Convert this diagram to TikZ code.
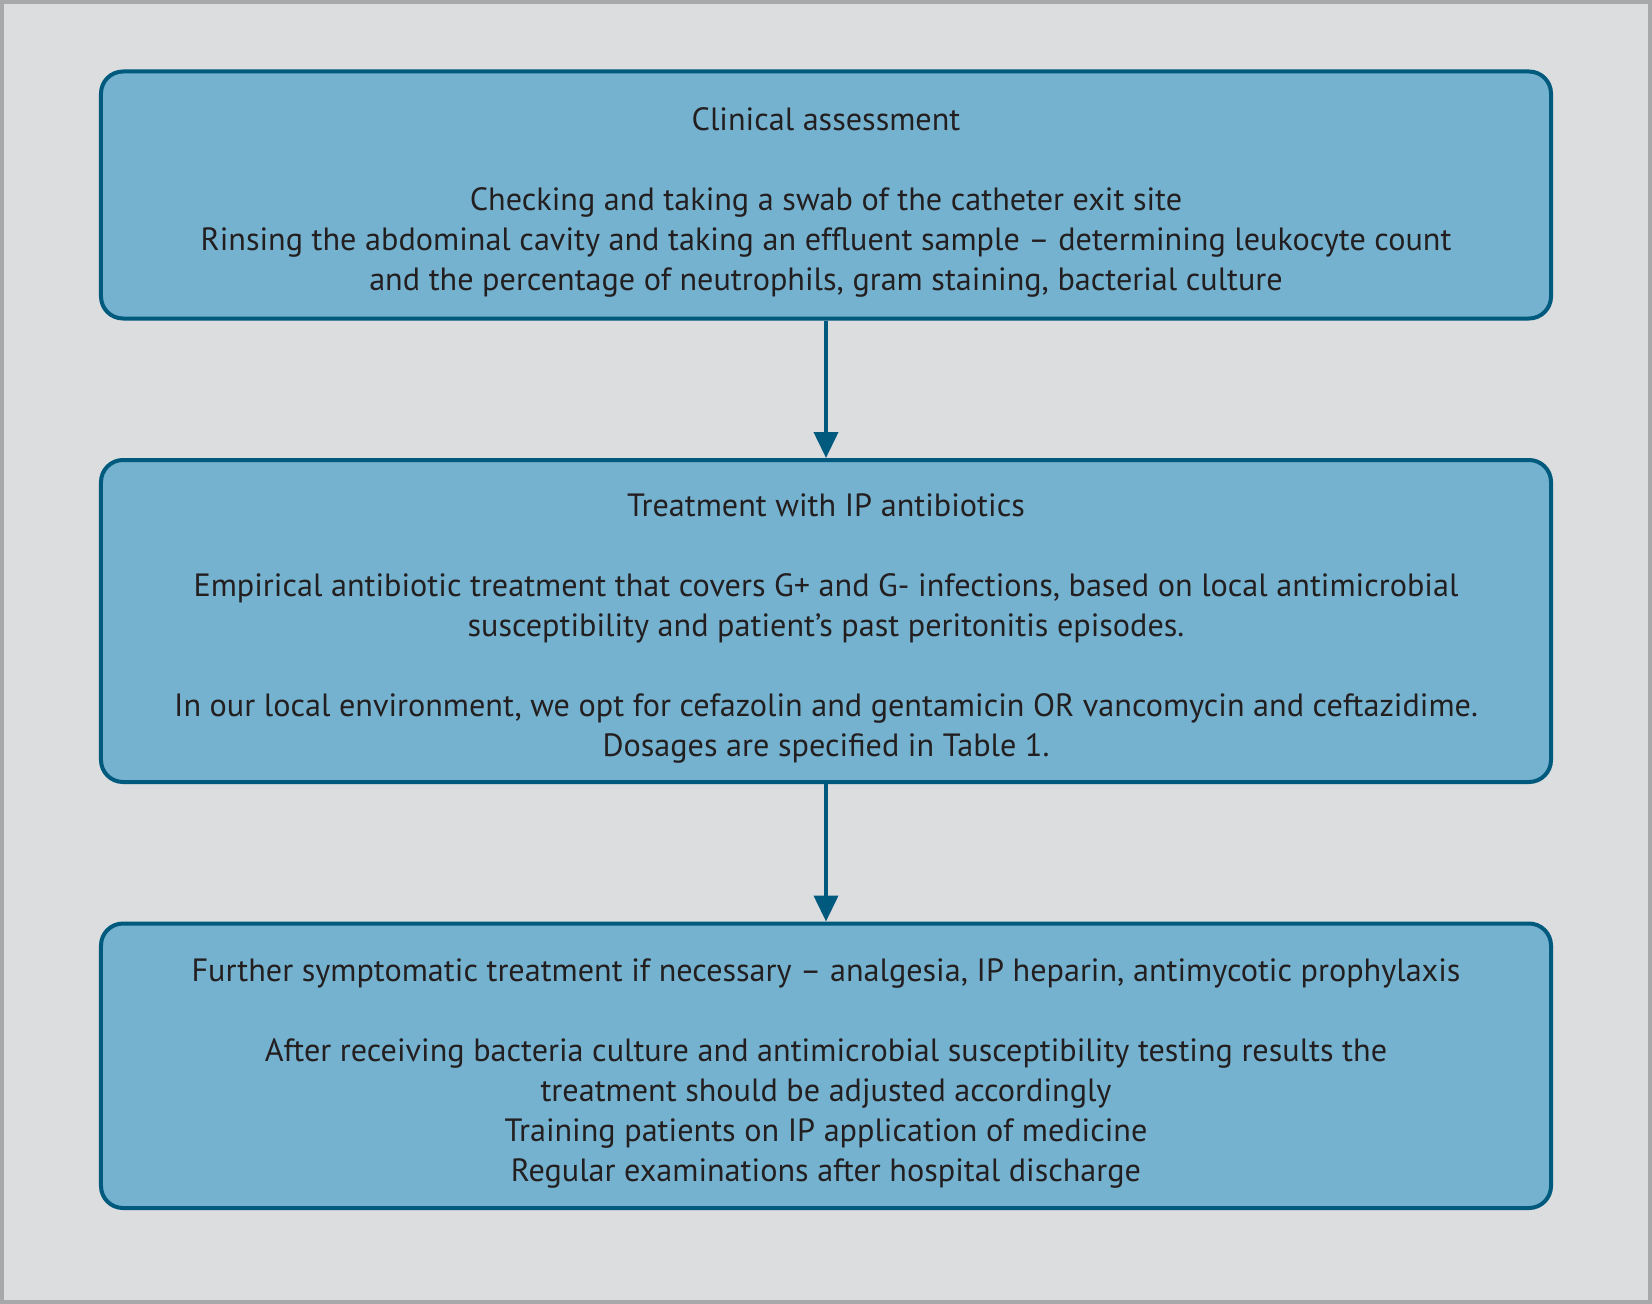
\documentclass[tikz,border=0pt]{standalone}
\usepackage{fontspec}
\setmainfont{PT Sans}
\usetikzlibrary{positioning, arrows.meta}
\definecolor{boxfill}{HTML}{75B2CF}
\definecolor{boxline}{HTML}{005A7E}
\definecolor{pagebg}{HTML}{DCDDDF}
\definecolor{pageframe}{HTML}{A7A8AA}
\definecolor{textgray}{HTML}{231F20}
\newcommand{\leadstrut}{\rule{0pt}{38bp}}
\tikzset{>={Triangle[width=24bp,length=26bp]}}
\tikzset{
  font={\fontsize{32.2bp}{40bp}\selectfont}}
\tikzset{
  stage/.style={draw=boxline, fill=boxfill, line width=4bp, rounded corners=22bp,
    minimum width=1450bp, align=center, text=textgray},
  link/.style={->, draw=boxline, line width=4bp}}

\begin{document}
\begin{tikzpicture}[x=1bp, y=1bp]
     \fill[pagebg] (0,0) rectangle (1652,-1304);
     \draw[pageframe, line width=4bp] (2,-2) rectangle (1650,-1302);
     \useasboundingbox (0,0) rectangle (1652,-1304);

     \node[stage, minimum height=247bp] (assess) at (826,-195)
       {\leadstrut Clinical assessment\\[40bp]
        Checking and taking a swab of the catheter exit site\\
        Rinsing the abdominal cavity and taking an effluent sample – determining leukocyte count\\
        and the percentage of neutrophils, gram staining, bacterial culture};
     \node[stage, minimum height=322bp, below=137.5bp of assess] (antib)
       {\leadstrut Treatment with IP antibiotics\\[40bp]
        Empirical antibiotic treatment that covers G+ and G- infections, based on local antimicrobial\\
        susceptibility and patient’s past peritonitis episodes.\\[40bp]
        In our local environment, we opt for cefazolin and gentamicin OR vancomycin and ceftazidime.\\
        Dosages are specified in Table 1.};
     \node[stage, minimum height=284.5bp, below=137.5bp of antib] (further)
       {\leadstrut Further symptomatic treatment if necessary – analgesia, IP heparin, antimycotic prophylaxis\\[40bp]
        After receiving bacteria culture and antimicrobial susceptibility testing results the\\
        treatment should be adjusted accordingly\\
        Training patients on IP application of medicine\\
        Regular examinations after hospital discharge};

     %%
     \draw[link] (assess) -- (antib);
     \draw[link] (antib) -- (further);
\end{tikzpicture}
\end{document}
